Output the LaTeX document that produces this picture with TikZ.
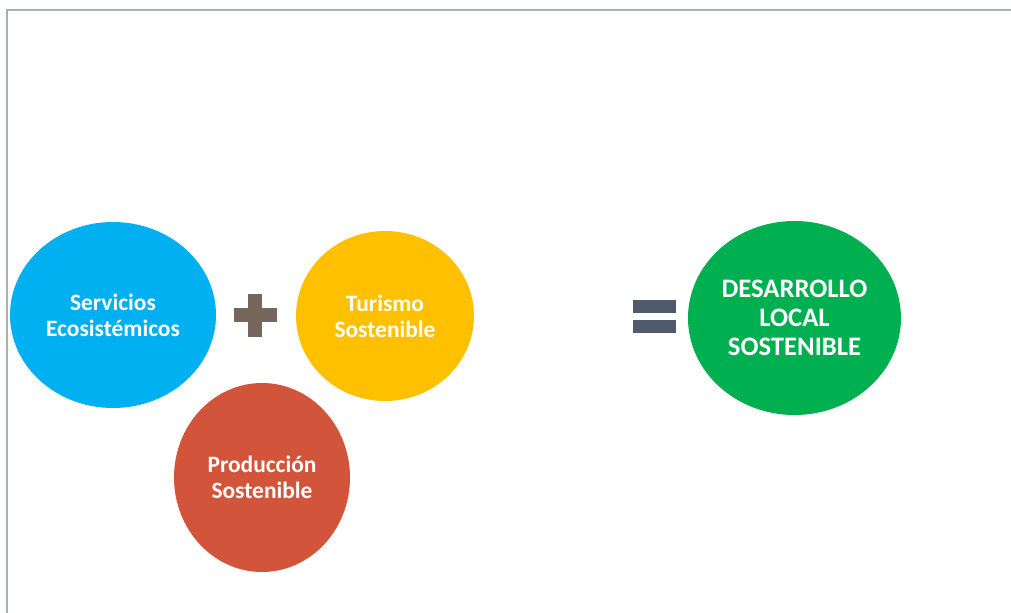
\documentclass[tikz,border=0pt]{standalone}
\usepackage{fontspec}
\setmainfont{Carlito}
\usetikzlibrary{shapes.geometric}
\definecolor{cblue}{HTML}{00B0F0}
\definecolor{cyellow}{HTML}{FFC000}
\definecolor{cred}{HTML}{D2553B}
\definecolor{cgreen}{HTML}{00B050}
\definecolor{cplus}{HTML}{76665B}
\definecolor{cequal}{HTML}{4F5B6B}
\definecolor{cframe}{HTML}{A3B5AD}
\tikzset{
  blob/.style={ellipse, inner sep=0pt, text=white, align=center,
    font=\fontsize{17.6pt}{19.5pt}\selectfont\bfseries},
  bigblob/.style={blob, font=\fontsize{20pt}{21.75pt}\selectfont\bfseries},
  framed/.style={draw=cframe, line width=1.5pt},
}
\begin{document}
\begin{tikzpicture}[x=0.75pt,y=-0.75pt]
\useasboundingbox (0,0) rectangle (1011,613);
\fill[white] (0,0) rectangle (1011,613);
% frame
\draw[framed] (6.5,613) -- (6.5,10.5) -- (1011,10.5);
% circles
\node[blob, fill=cblue, minimum width=206*0.75pt, minimum height=186*0.75pt] (serv) at (113,315) {Servicios\\Ecosistémicos};
\node[blob, fill=cyellow, minimum width=178*0.75pt, minimum height=170*0.75pt] (tur) at (385,316) {Turismo\\Sostenible};
\node[blob, fill=cred, minimum width=176*0.75pt, minimum height=189*0.75pt] (prod) at (262,477.5) {Producción\\Sostenible};
\node[bigblob, fill=cgreen, minimum width=213*0.75pt, minimum height=194*0.75pt] (des) at (794.5,318) {DESARROLLO\\LOCAL\\SOSTENIBLE};
% plus sign
\fill[cplus] (248,294) rectangle (262,337);
\fill[cplus] (234,308) rectangle (277,322);
% equals sign
\fill[cequal] (633,300) rectangle (676,313);
\fill[cequal] (633,320) rectangle (676,333);
\end{tikzpicture}
\end{document}
